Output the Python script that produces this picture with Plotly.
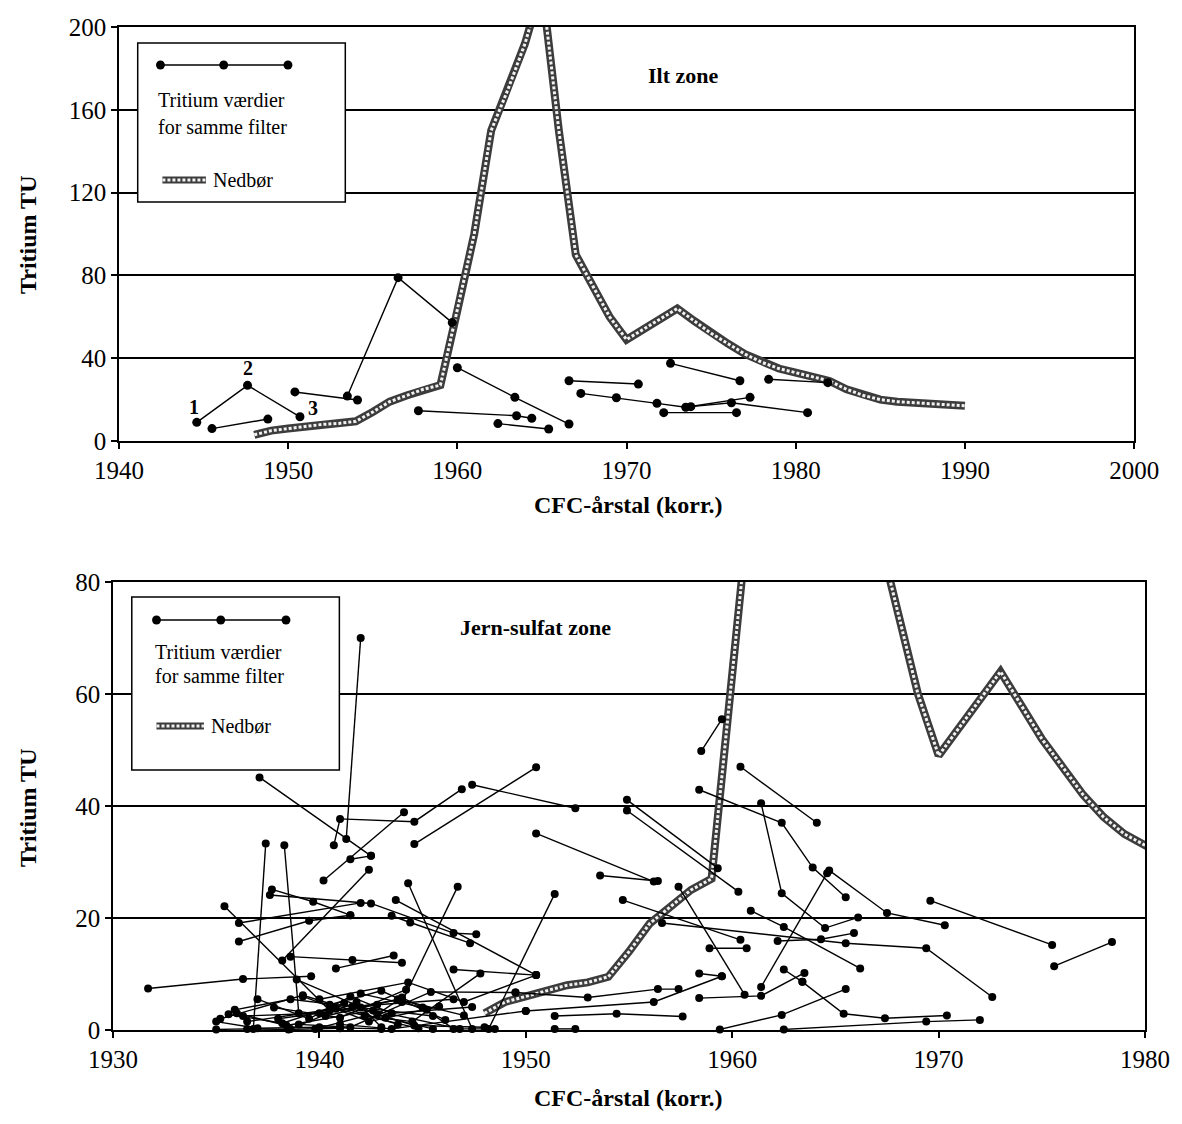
import plotly.graph_objects as go

# ---------------- data ----------------
# Tritium in precipitation (Nedbør), TU per year
nedbor_year = [1948, 1949, 1950, 1951, 1952, 1953, 1954, 1955, 1956, 1957, 1958, 1959,
               1960, 1961, 1962, 1963, 1964, 1965, 1966, 1967, 1968, 1969, 1970, 1971,
               1972, 1973, 1974, 1975, 1976, 1977, 1978, 1979, 1980, 1981, 1982, 1983,
               1984, 1985, 1986, 1987, 1988, 1989, 1990]
nedbor_tu = [3, 5, 6, 7, 8, 8.5, 9.5, 14, 19, 22, 25, 27,
             63, 100, 150, 170, 192, 220, 150, 90, 75, 60, 49, 54,
             59, 64, 58, 52, 47, 42, 38, 35, 33, 31, 29, 25,
             22, 20, 19, 18.5, 18, 17.5, 17]

# Ilt zone: CFC year (corrected) and tritium, one list per filter
ilt_x = [
    [1944.6, 1947.6, 1950.7],
    [1945.5, 1948.8],
    [1950.4, 1954.1],
    [1953.5, 1956.5, 1959.7],
    [1960.0, 1963.4, 1966.6],
    [1957.7, 1963.5, 1964.4],
    [1962.4, 1965.4],
    [1966.6, 1970.7],
    [1972.6, 1976.7],
    [1967.3, 1969.4, 1971.8, 1973.5, 1977.3],
    [1973.8, 1976.2, 1980.7],
    [1972.2, 1976.5],
    [1978.4, 1981.9],
]
ilt_y = [
    [9.0, 26.9, 11.7],
    [6.0, 10.6],
    [23.7, 19.8],
    [21.7, 78.9, 57.2],
    [35.4, 21.1, 8.2],
    [14.6, 12.2, 11.0],
    [8.4, 5.8],
    [29.1, 27.5],
    [37.5, 29.1],
    [23.0, 20.9, 18.2, 16.3, 21.1],
    [16.6, 18.5, 13.7],
    [13.7, 13.7],
    [29.8, 28.2],
]
ilt_labels = ["1", "2", "3"]

# Jern-sulfat zone: filters with CFC year before 1950
jern_old_x = [
    [1937.1, 1942.5], [1942.0, 1941.3], [1937.4, 1936.8], [1938.3, 1939.0],
    [1940.2, 1944.1], [1941.5, 1942.5], [1942.4, 1938.2], [1937.7, 1939.7, 1941.5],
    [1937.6, 1942.5, 1946.5, 1947.6], [1935.4, 1940.5], [1936.1, 1939.5, 1941.5],
    [1936.1, 1942.0], [1931.7, 1936.3, 1939.6], [1938.6, 1941.6, 1944.0],
    [1944.3, 1947.4], [1943.7, 1950.5], [1946.7, 1944.0], [1943.6, 1940.8],
    [1940.7, 1941.0, 1944.6, 1946.9], [1944.6, 1950.5], [1947.4, 1952.4],
    [1943.5, 1944.4, 1947.3], [1946.5, 1950.5],
    [1935.0, 1937.0, 1940.0, 1943.0], [1935.0, 1936.5, 1938.5, 1941.0],
    [1935.9, 1938.6, 1942.0, 1945.5], [1936.3, 1940.0, 1944.0],
    [1937.0, 1939.5, 1941.5, 1943.5, 1947.4], [1939.0, 1941.5, 1945.4, 1949.5],
    [1940.5, 1943.0, 1946.1], [1938.0, 1942.8, 1946.5], [1939.8, 1942.2, 1944.5, 1947.8],
    [1941.0, 1943.5, 1950.0], [1936.5, 1940.8, 1944.8], [1942.0, 1945.0, 1946.5, 1948.5],
    [1940.0, 1944.3, 1947.0, 1950.5], [1935.6, 1938.2, 1941.2], [1938.9, 1943.2, 1945.5],
    [1935.2, 1939.2, 1943.8], [1936.0, 1938.4, 1942.6, 1946.8], [1937.8, 1941.0, 1944.2],
    [1939.2, 1942.4, 1945.8], [1940.3, 1943.8, 1947.0], [1941.6, 1944.6, 1948.0],
    [1938.6, 1941.8, 1943.0], [1942.8, 1944.0, 1945.2],
]
jern_old_y = [
    [45.1, 31.1], [70.0, 34.1], [33.3, 0.2], [33.0, 3.0],
    [26.7, 38.9], [30.5, 31.1], [28.6, 12.4], [25.1, 22.9, 20.5],
    [24.1, 22.6, 17.3, 17.1], [22.1, 3.5], [15.8, 19.5, 20.5],
    [19.1, 22.7], [7.4, 9.1, 9.6], [13.1, 12.5, 12.0],
    [26.2, 0.2], [23.2, 9.8], [25.6, 5.0], [13.3, 11.0],
    [33.0, 37.7, 37.2, 43.0], [33.2, 46.9], [43.8, 39.6],
    [20.4, 19.2, 15.5], [10.8, 9.8],
    [1.5, 0.3, 0.5, 0.2], [0.1, 0.2, 0.1, 0.3],
    [3.6, 5.5, 4.0, 2.5], [2.5, 3.0, 5.5],
    [5.5, 2.0, 6.0, 3.0, 4.1], [1.0, 0.5, 6.8, 6.7],
    [4.5, 7.0, 1.8], [2.0, 4.5, 5.5], [0.2, 2.5, 1.5, 10.1],
    [1.0, 0.2, 3.4], [1.5, 3.8, 0.3], [6.5, 4.0, 0.2, 0.2],
    [5.5, 8.5, 5.0, 9.8], [2.8, 1.2, 4.8], [9.0, 2.2, 0.2],
    [2.0, 6.2, 1.0], [3.0, 0.8, 3.5, 0.2], [4.0, 2.2, 7.2],
    [6.0, 1.5, 4.2], [2.5, 5.5, 2.6], [4.2, 0.8, 0.5],
    [0.2, 5.0, 0.5], [2.8, 5.8, 3.6],
]

# Jern-sulfat zone: filters with CFC year 1950 and later
jern_new_x = [
    [1969.6, 1975.5], [1975.6, 1978.4], [1964.7, 1967.5, 1970.3],
    [1956.6, 1965.5, 1969.4, 1972.6], [1958.5, 1959.5], [1960.4, 1964.1],
    [1958.4, 1962.4, 1963.9, 1965.5], [1961.4, 1962.4, 1964.5, 1966.1],
    [1964.6, 1961.4], [1960.9, 1962.5, 1966.2], [1962.2, 1964.3, 1965.9],
    [1957.4, 1960.6], [1953.6, 1956.4], [1958.9, 1960.7], [1954.7, 1960.4],
    [1958.4, 1959.5], [1949.5, 1953.0, 1956.4, 1957.4], [1958.4, 1961.4, 1963.5],
    [1959.4, 1962.4, 1965.5], [1962.5, 1969.4, 1972.0],
    [1963.4, 1965.4, 1967.4, 1970.4], [1951.4, 1954.4, 1957.6], [1951.4, 1952.4],
    [1950.0, 1956.2, 1959.5], [1950.5, 1956.2], [1951.4, 1948.2],
    [1954.9, 1959.3], [1954.9, 1960.3], [1962.5, 1963.4],
]
jern_new_y = [
    [23.1, 15.2], [11.4, 15.7], [28.5, 20.9, 18.7],
    [19.1, 15.5, 14.6, 5.9], [49.8, 55.5], [47.0, 37.0],
    [42.9, 37.0, 29.0, 23.7], [40.5, 24.4, 18.2, 20.1],
    [28.0, 7.7], [21.3, 18.4, 11.0], [15.9, 16.2, 17.3],
    [25.6, 6.3], [27.6, 26.6], [14.6, 14.6], [23.2, 16.1],
    [10.1, 9.6], [6.7, 5.8, 7.3, 7.3], [5.7, 6.1, 10.2],
    [0.1, 2.7, 7.3], [0.1, 1.5, 1.8],
    [8.6, 2.9, 2.1, 2.6], [2.5, 2.9, 2.4], [0.2, 0.2],
    [3.4, 5.0, 9.6], [35.1, 26.5], [24.3, 0.2],
    [41.1, 28.9], [39.2, 24.7], [10.8, 8.6],
]

# ---------------- figure geometry ----------------
W, H = 1182, 1124
ML, MR, MT, MB = 113, 25, 27, 94
PW, PH = W - ML - MR, H - MT - MB


def px(x):
    return (x - ML) / PW


def py(y):
    return (H - MB - y) / PH


SERIF = "Liberation Serif, Times New Roman, serif"
fig = go.Figure()


def add_nedbor(xa, ya):
    # hatched precipitation curve: dark band with a light dotted core
    fig.add_trace(go.Scatter(x=nedbor_year, y=nedbor_tu, mode="lines", xaxis=xa, yaxis=ya,
                             line=dict(color="#3c3c3c", width=8), hoverinfo="skip"))
    fig.add_trace(go.Scatter(x=nedbor_year, y=nedbor_tu, mode="lines", xaxis=xa, yaxis=ya,
                             line=dict(color="#f2f2f2", width=3, dash="3px,2px"),
                             hoverinfo="skip"))


def add_filters(xs, ys, xa, ya, msize):
    for sx, sy in zip(xs, ys):
        fig.add_trace(go.Scatter(x=sx, y=sy, mode="lines+markers", xaxis=xa, yaxis=ya,
                                 line=dict(color="black", width=1.4),
                                 marker=dict(color="black", size=msize),
                                 cliponaxis=False))


add_nedbor("x", "y")
add_filters(ilt_x, ilt_y, "x", "y", 9)
add_nedbor("x2", "y2")
add_filters(jern_old_x, jern_old_y, "x2", "y2", 8)
add_filters(jern_new_x, jern_new_y, "x2", "y2", 8)

axis_common = dict(showline=True, linecolor="black", linewidth=1.5, mirror=True,
                   ticks="outside", ticklen=6, tickwidth=1.5, tickcolor="black",
                   zeroline=False, tickfont=dict(family=SERIF, size=25, color="black"))

fig.update_layout(
    width=W, height=H, showlegend=False,
    margin=dict(l=ML, r=MR, t=MT, b=MB),
    paper_bgcolor="white", plot_bgcolor="white",
    xaxis=dict(domain=[px(119), px(1146)], anchor="y", range=[1940, 2000],
               tickvals=list(range(1940, 2001, 10)), showgrid=False,
               ticklabelstandoff=0, **axis_common),
    yaxis=dict(domain=[py(441), 1], anchor="x", range=[0, 200], dtick=40,
               showgrid=True, gridcolor="black", gridwidth=1.5, **axis_common),
    xaxis2=dict(domain=[0, 1], anchor="y2", range=[1930, 1980],
                tickvals=list(range(1930, 1981, 10)), showgrid=False,
                ticklabelstandoff=0, **axis_common),
    yaxis2=dict(domain=[0, py(582)], anchor="x2", range=[0, 80], dtick=20,
                showgrid=True, gridcolor="black", gridwidth=1.5, **axis_common),
)

ann = []
bold = dict(family=SERIF, size=24, color="black")


def note(text, x, y, font, xanchor="center", angle=0):
    ann.append(dict(text=text, x=px(x), y=py(y), xref="paper", yref="paper",
                    xanchor=xanchor, yanchor="middle", showarrow=False,
                    textangle=angle, font=font))


for yc in (505, 1098):
    note("<b>CFC-årstal (korr.)</b>", 634, yc, bold)
for yc in (235, 808):
    note("<b>Tritium TU</b>", 27, yc, bold, angle=-90)
note("<b>Ilt zone</b>", 690, 75, dict(family=SERIF, size=22, color="black"))
note("<b>Jern-sulfat zone</b>", 540, 627, dict(family=SERIF, size=22, color="black"))

# numbered points of the first filter in the oxygen zone
offsets = [(-3, 15), (0, 17), (13, 9)]
for lab, xv, yv, (dx, dy) in zip(ilt_labels, ilt_x[0], ilt_y[0], offsets):
    ann.append(dict(text=f"<b>{lab}</b>", x=xv, y=yv, xref="x", yref="y", showarrow=False,
                    xanchor="center", yanchor="middle", xshift=dx, yshift=dy,
                    font=dict(family=SERIF, size=20, color="black")))

shapes = []


def legend_box(x0, y0, x1, y1, line_y, mx, t1_y, t2_y, ned_y, ned_x0, ned_x1):
    shapes.append(dict(type="rect", xref="paper", yref="paper", x0=px(x0), x1=px(x1),
                       y0=py(y1), y1=py(y0), line=dict(color="black", width=1.5),
                       fillcolor="white", layer="above"))
    shapes.append(dict(type="line", xref="paper", yref="paper", x0=px(mx[0]), x1=px(mx[-1]),
                       y0=py(line_y), y1=py(line_y), line=dict(color="black", width=1.4),
                       layer="above"))
    for m in mx:
        shapes.append(dict(type="circle", xref="paper", yref="paper", x0=px(m - 4.5),
                           x1=px(m + 4.5), y0=py(line_y + 4.5), y1=py(line_y - 4.5),
                           fillcolor="black", line=dict(color="black", width=0),
                           layer="above"))
    shapes.append(dict(type="line", xref="paper", yref="paper", x0=px(ned_x0), x1=px(ned_x1),
                       y0=py(ned_y), y1=py(ned_y), line=dict(color="#3c3c3c", width=7),
                       layer="above"))
    shapes.append(dict(type="line", xref="paper", yref="paper", x0=px(ned_x0), x1=px(ned_x1),
                       y0=py(ned_y), y1=py(ned_y),
                       line=dict(color="#f2f2f2", width=3, dash="3px,2px"), layer="above"))
    lf = dict(family=SERIF, size=20, color="black")
    note("Tritium værdier", mx[0] - 4, t1_y, lf, xanchor="left")
    note("for samme filter", mx[0] - 4, t2_y, lf, xanchor="left")
    note("Nedbør", ned_x1 + 5, ned_y, lf, xanchor="left")


legend_box(138, 43, 348, 202, 65, [161, 225, 290], 100, 127, 180, 163, 207)
legend_box(132, 597, 342, 770, 620, [157, 222, 288], 652, 676, 726, 157, 205)

fig.update_layout(annotations=ann, shapes=shapes)
fig.write_html("out.html")
